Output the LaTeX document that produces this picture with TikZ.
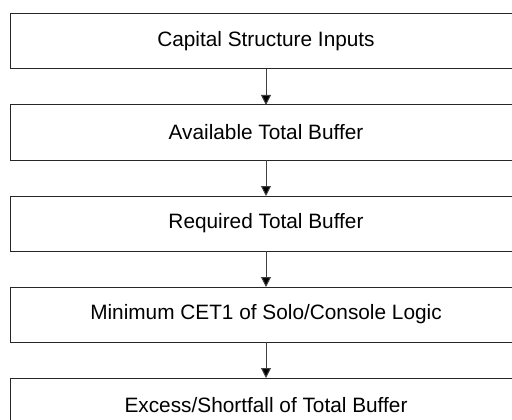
\documentclass[tikz,border=0pt]{standalone}
\usepackage{fontspec}
\setmainfont{Liberation Sans}
\usepackage{tikz}
\usetikzlibrary{positioning}
\usetikzlibrary{arrows.meta}

\begin{document}
\begin{tikzpicture}[x=1pt, y=1pt,
StepBox/.style={rectangle, draw=black!85, line width=1pt, outer sep=0pt, inner sep=0pt,
  minimum width=511pt, minimum height=55pt, font=\fontsize{20.8}{24}\selectfont},
StepArrow/.style={draw=black!75, line width=1pt, -{Triangle[length=10pt, width=10pt, fill=black]}},
node distance=36pt
]
\useasboundingbox (0,0) rectangle (512,-420);
%Nodes
\node[StepBox] (N1) at (266,-41.5) {Capital Structure Inputs};
\node[StepBox] (N2) [below=of N1] {Available Total Buffer};
\node[StepBox] (N3) [below=of N2] {Required Total Buffer};
\node[StepBox] (N4) [below=of N3] {Minimum CET1 of Solo/Console Logic};
\node[StepBox] (N5) [below=of N4] {Excess/Shortfall of Total Buffer};
%Lines
\draw[StepArrow] (N1.south) -- (N2.north);
\draw[StepArrow] (N2.south) -- (N3.north);
\draw[StepArrow] (N3.south) -- (N4.north);
\draw[StepArrow] (N4.south) -- (N5.north);
\end{tikzpicture}
\end{document}
